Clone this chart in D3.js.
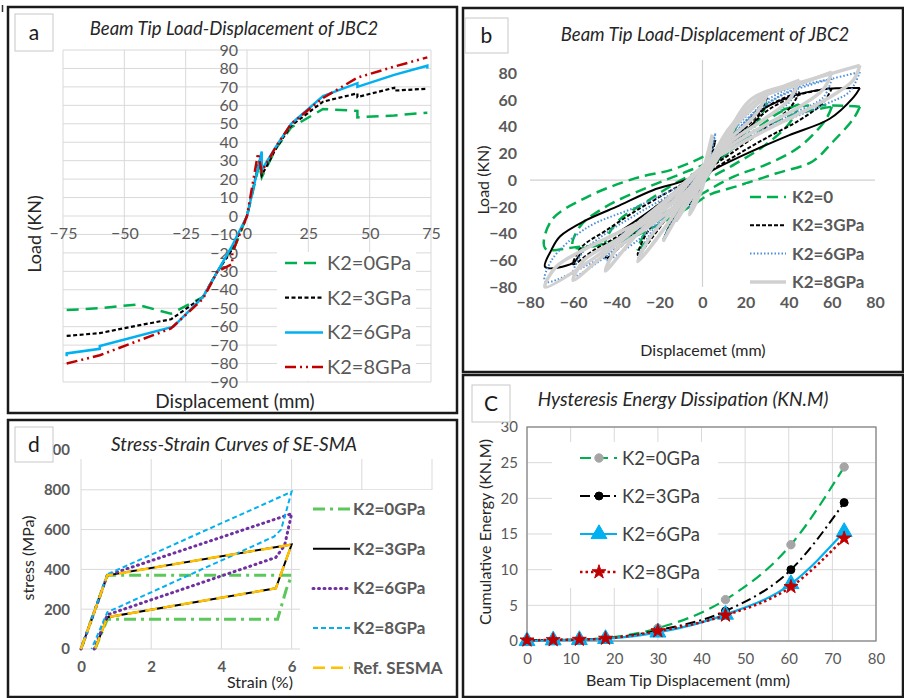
<!DOCTYPE html>
<html>
<head>
<meta charset="utf-8">
<script src="https://cdn.jsdelivr.net/npm/d3@7"></script>
<style>
body{margin:0;background:#fff}
svg{display:block;font-family:Lato,"Open Sans",sans-serif}
</style>
</head>
<body>
<svg></svg>
<script>
// ---------- panel a : envelope curves [disp, load] ----------
let envK0 = [[-73.5,-51],[-60,-50],[-45,-48],[-31,-53],[-18,-44],[-12,-30],[-6,-17],[-6,-20],[0,0],[5,28],[6,21],[12,37],[18,48],[31,58],[45,57],[45,53.5],[60,54.5],[73.5,56]]
let envK3 = [[-73.5,-65],[-60,-63.5],[-45,-59.5],[-31,-56],[-18,-44],[-12,-30],[-6,-18],[0,0],[5,30],[6,22],[12,37],[18,49],[31,62],[45,66.5],[45,64.5],[60,69.5],[60,68],[73.5,69]]
let envK6 = [[-73.5,-76],[-73.5,-74.5],[-60,-72],[-60,-70.5],[-30,-60],[-18,-44],[-12,-30],[-6,-16],[0,0],[6,35],[6,25],[12,38],[18,50],[31,65],[45,72],[45,70],[60,76.5],[73.5,81.5],[73.5,80]]
let envK8 = [[-73.5,-80],[-60,-75.5],[-45,-68],[-31,-61],[-18,-45],[-12,-30],[-6,-26],[-6,-20],[0,0],[4.5,34],[6,24],[12,38],[18,50],[31,64],[45,75],[60,81],[73.5,86]]
let ticksAx = [-75,-50,-25,0,25,50,75]
let ticksAy = [-90,-80,-70,-60,-50,-40,-30,-20,-10,0,10,20,30,40,50,60,70,80,90]
let legendA = ["K2=0GPa","K2=3GPa","K2=6GPa","K2=8GPa"]

// ---------- panel b : hysteresis loops [disp, load] ----------
let hysK0 = [
  [[6,22],[0,4],[-6,-18],[0,-2],[6,22]],
  [[12,37],[6,18],[0,2],[-6,-14],[-12,-30],[-6,-14],[0,0],[6,17],[12,37]],
  [[18,48],[12,30],[0,4],[-10,-20],[-18,-44],[-12,-25],[0,-2],[10,22],[18,48]],
  [[30,58],[25,42],[15,25],[0,5],[-15,-25],[-30,-52],[-25,-35],[-12,-12],[0,3],[12,25],[22,45],[30,58]],
  [[45,57],[40,42],[28,25],[15,12],[0,-2],[-15,-22],[-30,-38],[-45,-48],[-40,-32],[-25,-15],[-10,0],[5,12],[20,32],[35,50],[45,57]],
  [[60,55],[57,45],[45,25],[30,12],[15,3],[0,-10],[-15,-25],[-35,-42],[-60,-50],[-57,-35],[-45,-20],[-25,-5],[-8,6],[5,15],[20,32],[40,48],[60,55]],
  [[73,55],[70,46],[60,28],[51,14],[34,5],[17,-4],[3,-11],[-3,-17],[-20,-33],[-40,-47],[-58,-50],[-73,-51],[-70,-30],[-54,-13],[-31,1.5],[-14,8],[2,19],[20,38],[40,54],[60,56],[73,55]]
]
let hysK3 = [
  [[6,30],[0,5],[-6,-18],[0,-3],[6,30]],
  [[12,37],[5,17],[-5,-12],[-12,-30],[-5,-12],[5,15],[12,37]],
  [[18,49],[12,30],[0,4],[-10,-22],[-18,-44],[-12,-25],[0,-2],[10,24],[18,49]],
  [[30,62],[26,48],[15,28],[0,6],[-15,-25],[-30,-56],[-26,-40],[-15,-18],[0,4],[15,32],[30,62]],
  [[45,66],[41,55],[30,40],[15,22],[0,5],[-15,-18],[-30,-38],[-45,-59],[-40,-45],[-28,-28],[-12,-8],[0,5],[15,30],[30,55],[45,66]],
  [[60,69],[56,58],[45,45],[30,32],[15,18],[0,3],[-15,-15],[-35,-38],[-50,-52],[-60,-63],[-56,-50],[-45,-38],[-30,-22],[-15,-8],[0,6],[15,28],[30,52],[45,64],[60,69]],
  [[73,69],[70,62],[59,46],[40,33.6],[22,21],[6.5,9],[-4.6,-1.5],[-20,-18],[-40,-40],[-55,-52],[-60,-62],[-73,-65],[-70,-52],[-66,-42],[-54,-30],[-40,-20],[-23,-7.5],[-8,0],[5,12],[15,30],[25,50],[40,62],[56,68],[73,69]]
]
let hysK6 = [
  [[6,35],[0,5],[-6,-20],[0,-4],[6,35]],
  [[12,38],[6,20],[0,3],[-6,-13],[-12,-30],[-6,-14],[0,0],[6,18],[12,38]],
  [[18,50],[12,30],[0,5],[-10,-22],[-18,-44],[-12,-25],[0,-2],[10,25],[18,50]],
  [[30,65],[25,50],[12,28],[0,5],[-15,-30],[-30,-60],[-25,-42],[-12,-18],[0,3],[15,38],[30,65]],
  [[45,72],[40,58],[28,45],[12,25],[0,5],[-15,-22],[-30,-45],[-45,-60],[-40,-45],[-28,-30],[-12,-10],[0,5],[15,35],[30,60],[45,72]],
  [[60,76],[56,62],[42,50],[25,35],[8,18],[0,6],[-15,-18],[-35,-45],[-60,-72],[-56,-55],[-45,-40],[-30,-25],[-12,-8],[0,5],[15,35],[35,62],[60,76]],
  [[73,81],[68,66],[55.7,56],[32.5,40],[9.3,18.7],[0,8],[-15,-15],[-35,-45],[-55,-65],[-73,-76],[-70,-60],[-54,-36],[-30.6,-20],[-15,-8],[0,4],[10,25],[25,52],[45,70],[60,76],[73,81]]
]
let hysK8 = [
  [[4.5,34],[0,5],[-6,-26],[0,-5],[4.5,34]],
  [[12,38],[6,20],[0,3],[-6,-12],[-12,-30],[-6,-15],[0,0],[6,18],[12,38]],
  [[18,50],[12,32],[0,5],[-10,-22],[-18,-45],[-12,-28],[0,-2],[10,25],[18,50]],
  [[30,64],[24,48],[12,30],[0,8],[-15,-30],[-30,-61],[-24,-42],[-12,-20],[0,3],[12,35],[30,64]],
  [[45,75],[40,60],[28,45],[14,30],[0,10],[-15,-18],[-30,-40],[-45,-68],[-40,-52],[-25,-35],[-10,-15],[0,5],[12,38],[25,60],[45,75]],
  [[60,81],[56,68],[45,55],[30,42],[15,28],[0,10],[-15,-14],[-30,-35],[-45,-55],[-60,-75],[-55,-60],[-40,-45],[-25,-30],[-10,-12],[0,5],[12,35],[25,60],[45,72],[60,81]],
  [[73,86],[70,75],[60,63],[45,50],[30,38],[15,25],[0,10],[-15,-12],[-30,-32],[-50,-58],[-73,-80],[-68,-65],[-55,-52],[-40,-40],[-25,-28],[-10,-12],[0,5],[10,30],[23,61],[45,73],[60,80],[73,86]]
]
let ticksBx = [-80,-60,-40,-20,0,20,40,60,80]
let ticksBy = [-80,-60,-40,-20,0,20,40,60,80]
let legendB = ["K2=0","K2=3GPa","K2=6GPa","K2=8GPa"]

// ---------- panel c : cumulative energy ----------
let energyDisp = [0,6,12,18,30,45.5,60.5,72.7]
let energyK0 = [0.1,0.15,0.2,0.4,1.8,5.8,13.5,24.4]
let energyK3 = [0.1,0.15,0.2,0.35,1.5,4.2,10.0,19.4]
let energyK6 = [0,0.1,0.15,0.3,1.2,3.7,8.0,15.3]
let energyK8 = [0.1,0.15,0.2,0.35,1.4,3.6,7.6,14.4]
let ticksCx = [0,10,20,30,40,50,60,70,80]
let ticksCy = [0,5,10,15,20,25,30]
let legendC = ["K2=0GPa","K2=3GPa","K2=6GPa","K2=8GPa"]

// ---------- panel d : SE-SMA stress-strain [strain %, MPa] ----------
let sseK0 = [[0,0],[0.75,370],[6,370],[5.85,300],[5.6,150],[0.75,150],[0.4,0]]
let sseK3 = [[0,0],[0.75,370],[6,525],[5.55,305],[0.75,160],[0.4,0]]
let sseK6 = [[0,0],[0.75,370],[6,680],[5.8,520],[5.55,460],[0.75,172],[0.38,0]]
let sseK8 = [[0,0],[0.75,375],[6,790],[5.7,600],[5.5,565],[0.75,185],[0.3,0]]
let sseRef = [[0,0],[0.75,370],[6,525],[5.55,305],[0.75,160],[0.4,0]]
let gridDx = [0,2,4,6,8,10]
let ticksDx = [0,2,4,6]   // 8 and 10 sit under the legend
let ticksDy = [0,200,400,600,800,1000]
let legendD = ["K2=0GPa","K2=3GPa","K2=6GPa","K2=8GPa","Ref. SESMA"]

let svg = d3.select('svg').attr('width',904).attr('height',698)
svg.append('rect').attr('width',904).attr('height',698).attr('fill','#fff')
svg.append('line').attr('x1',2.5).attr('x2',2.5).attr('y1',5).attr('y2',12).attr('stroke','#333').attr('stroke-width',1.5)

let tickText = (g, size, weight) => {
    g.select('.domain').remove()
    g.attr('font-family',null).attr('font-size',size)
    g.selectAll('text').attr('fill','#595959').attr('font-weight',weight)
}

let panelBox = (x,y,w,h) => {
    svg.append('rect').attr('x',x).attr('y',y).attr('width',w).attr('height',h)
        .attr('fill','none').attr('stroke','#1a1a1a').attr('stroke-width',2.5)
}
let labelBox = (x,y,w,h,t) => {
    svg.append('rect').attr('x',x).attr('y',y).attr('width',w).attr('height',h)
        .attr('fill','#fff').attr('stroke','#c8c8c8').attr('stroke-width',1)
    svg.append('text').attr('x',x+w/2).attr('y',y+h/2+7).attr('text-anchor','middle')
        .attr('font-size',21).attr('fill','#1a1a1a').text(t)
}

// ================= panel a =================
let drawPanelA = () => {
    let xA = d3.scaleLinear().domain([-75,75]).range([63,431])
    let yA = d3.scaleLinear().domain([-90,90]).range([382,50])
    let g = svg.append('g')
    g.selectAll('.hg').data(ticksAy).enter().append('line')
        .attr('x1',xA(-75)).attr('x2',xA(75)).attr('y1',d=>yA(d)).attr('y2',d=>yA(d))
        .attr('stroke','#d9d9d9')
    g.selectAll('.vg').data(ticksAx).enter().append('line')
        .attr('x1',d=>xA(d)).attr('x2',d=>xA(d)).attr('y1',yA(90)).attr('y2',yA(-90))
        .attr('stroke','#d9d9d9')
    g.append('g').attr('transform','translate('+xA(0)+',0)')
        .call(d3.axisLeft(yA).tickValues(ticksAy).tickSize(0).tickPadding(9))
        .call(a=>tickText(a,16,'normal'))
    g.append('g').attr('transform','translate(0,'+yA(0)+')')
        .call(d3.axisBottom(xA).tickValues(ticksAx).tickSize(0).tickPadding(12))
        .call(a=>tickText(a,16,'normal'))

    let line = d3.line().x(d=>xA(d[0])).y(d=>yA(d[1]))
    let series = [
        {d:envK0,c:'#00b050',w:2.5,dash:'12,7'},
        {d:envK3,c:'#000',w:2.2,dash:'4,2.5'},
        {d:envK6,c:'#00b0f0',w:2.5,dash:null},
        {d:envK8,c:'#c00000',w:2.5,dash:'11,4,2,4,2,4'}
    ]
    series.forEach(s => {
        g.append('path').attr('d',line(s.d)).attr('fill','none').attr('stroke',s.c)
            .attr('stroke-width',s.w).attr('stroke-dasharray',s.dash)
    })

    // legend
    g.append('rect').attr('x',277).attr('y',252).attr('width',139).attr('height',129).attr('fill','#fff')
    legendA.forEach((t,i) => {
        let y = 263+i*34.7
        g.append('line').attr('x1',285).attr('x2',323).attr('y1',y).attr('y2',y)
            .attr('stroke',series[i].c).attr('stroke-width',series[i].w).attr('stroke-dasharray',series[i].dash)
        g.append('text').attr('x',327).attr('y',y+7).attr('font-size',20).attr('fill','#595959').text(t)
    })

    g.append('text').attr('x',234).attr('y',35).attr('text-anchor','middle').attr('font-style','italic')
        .attr('font-size',18.5).attr('fill','#262626').text('Beam Tip Load-Displacement of JBC2')
    g.append('text').attr('x',235).attr('y',408).attr('text-anchor','middle')
        .attr('font-size',19).attr('fill','#262626').text('Displacement (mm)')
    g.append('text').attr('transform','translate(41,234) rotate(-90)').attr('text-anchor','middle')
        .attr('font-size',18).attr('fill','#262626').text('Load (KN)')
    panelBox(8,7,449,406)
    labelBox(15,14,38,37,'a')
}

// ================= panel b =================
let drawPanelB = () => {
    let xB = d3.scaleLinear().domain([-80,80]).range([530,875])
    let yB = d3.scaleLinear().domain([-80,90]).range([287,60])
    let g = svg.append('g')
    g.append('line').attr('x1',xB(-80)).attr('x2',xB(80)).attr('y1',yB(0)).attr('y2',yB(0)).attr('stroke','#d0d0d0').attr('stroke-width',1.2)
    g.append('line').attr('x1',xB(0)).attr('x2',xB(0)).attr('y1',yB(90)).attr('y2',yB(-80)).attr('stroke','#d0d0d0').attr('stroke-width',1.2)
    g.append('g').attr('transform','translate(517,0)')
        .call(d3.axisLeft(yB).tickValues(ticksBy).tickSize(0).tickPadding(0))
        .call(a=>tickText(a,16,'bold'))
    g.append('g').attr('transform','translate(0,297)')
        .call(d3.axisBottom(xB).tickValues(ticksBx).tickSize(0).tickPadding(0))
        .call(a=>tickText(a,16,'bold'))

    let line = d3.line().x(d=>xB(d[0])).y(d=>yB(d[1])).curve(d3.curveCatmullRom.alpha(0.5))
    let series = [
        {d:hysK0,c:'#00b050',w:2.5,dash:'11,6'},
        {d:hysK3,c:'#000',w:2,dash:'4,2'},
        {d:hysK6,c:'#4a8fd8',w:2,dash:'1.5,2'},
        {d:hysK8,c:'#d0d0d0',w:3.5,dash:null}
    ]
    series.forEach((s,si) => {
        s.d.forEach((loop,li) => {
            // the outer K2=3GPa loop reads as a solid line in the figure
            let dash = (si===1 && li===s.d.length-1) ? null : s.dash
            g.append('path').attr('d',line(loop)).attr('fill','none').attr('stroke',s.c)
                .attr('stroke-width',s.w).attr('stroke-dasharray',dash).attr('stroke-linejoin','round')
        })
    })

    legendB.forEach((t,i) => {
        let y = 197+i*28.3
        g.append('rect').attr('x',746).attr('y',y-13).attr('width',145).attr('height',26).attr('fill','#fff')
        g.append('line').attr('x1',750).attr('x2',786).attr('y1',y).attr('y2',y)
            .attr('stroke',series[i].c).attr('stroke-width',series[i].w).attr('stroke-dasharray',series[i].dash)
        g.append('text').attr('x',792).attr('y',y+6).attr('font-size',17).attr('font-weight','bold')
            .attr('fill','#595959').text(t)
    })

    g.append('text').attr('x',705).attr('y',41).attr('text-anchor','middle').attr('font-style','italic')
        .attr('font-size',18.5).attr('fill','#262626').text('Beam Tip Load-Displacement of JBC2')
    g.append('text').attr('x',703).attr('y',356).attr('text-anchor','middle')
        .attr('font-size',16).attr('fill','#262626').text('Displacemet (mm)')
    g.append('text').attr('transform','translate(489,180) rotate(-90)').attr('text-anchor','middle')
        .attr('font-size',16).attr('fill','#262626').text('Load (KN)')
    panelBox(463,8,440,364)
    labelBox(465,18,43,35,'b')
}

// ================= panel c =================
let drawPanelC = () => {
    let xC = d3.scaleLinear().domain([0,80]).range([527,876])
    let yC = d3.scaleLinear().domain([0,30]).range([641,427])
    let g = svg.append('g')
    g.selectAll('.hg').data(ticksCy).enter().append('line')
        .attr('x1',xC(0)).attr('x2',xC(80)).attr('y1',d=>yC(d)).attr('y2',d=>yC(d)).attr('stroke','#d9d9d9')
    g.selectAll('.vg').data(ticksCx).enter().append('line')
        .attr('x1',d=>xC(d)).attr('x2',d=>xC(d)).attr('y1',yC(0)).attr('y2',yC(30)).attr('stroke','#d9d9d9')
    g.append('rect').attr('x',xC(0)).attr('y',yC(30)).attr('width',xC(80)-xC(0)).attr('height',yC(0)-yC(30))
        .attr('fill','none').attr('stroke','#7f7f7f').attr('stroke-width',1.2)
    g.append('g').attr('transform','translate('+xC(0)+',0)')
        .call(d3.axisLeft(yC).tickValues(ticksCy).tickSize(0).tickPadding(9))
        .call(a=>tickText(a,15,'normal'))
    g.append('g').attr('transform','translate(0,'+yC(0)+')')
        .call(d3.axisBottom(xC).tickValues(ticksCx).tickSize(0).tickPadding(12))
        .call(a=>tickText(a,15,'normal'))

    // legend background
    g.append('rect').attr('x',552).attr('y',442).attr('width',166).attr('height',146).attr('fill','#fff')

    let line = d3.line().x(d=>xC(d[0])).y(d=>yC(d[1])).curve(d3.curveMonotoneX)
    let series = [
        {v:energyK0,c:'#00b050',w:2.2,dash:'11,6',sym:d3.symbolCircle,size:55,fill:'#a5a5a5'},
        {v:energyK3,c:'#000',w:2,dash:'10,4,2,4',sym:d3.symbolCircle,size:50,fill:'#000'},
        {v:energyK6,c:'#00b0f0',w:2.2,dash:null,sym:d3.symbolTriangle,size:110,fill:'#00b0f0'},
        {v:energyK8,c:'#c00000',w:2.5,dash:'2.5,3',sym:d3.symbolStar,size:60,fill:'#c00000'}
    ]
    series.forEach(s => {
        let pts = energyDisp.map((x,i)=>[x,s.v[i]])
        g.append('path').attr('d',line(pts)).attr('fill','none').attr('stroke',s.c)
            .attr('stroke-width',s.w).attr('stroke-dasharray',s.dash)
        g.selectAll(null).data(pts).enter().append('path')
            .attr('d',d3.symbol().type(s.sym).size(s.size))
            .attr('transform',d=>'translate('+xC(d[0])+','+yC(d[1])+')')
            .attr('fill',s.fill).attr('stroke',s.fill)
    })
    legendC.forEach((t,i) => {
        let y = 458+i*38
        let s = series[i]
        g.append('line').attr('x1',580).attr('x2',617).attr('y1',y).attr('y2',y)
            .attr('stroke',s.c).attr('stroke-width',s.w).attr('stroke-dasharray',s.dash)
        g.append('path').attr('d',d3.symbol().type(s.sym).size(s.size))
            .attr('transform','translate(599,'+y+')').attr('fill',s.fill).attr('stroke',s.fill)
        g.append('text').attr('x',622).attr('y',y+7).attr('font-size',18.5).attr('fill','#404040').text(t)
    })

    g.append('text').attr('x',683).attr('y',406).attr('text-anchor','middle').attr('font-style','italic')
        .attr('font-size',19).attr('fill','#262626').text('Hysteresis Energy Dissipation (KN.M)')
    g.append('text').attr('x',688).attr('y',686).attr('text-anchor','middle')
        .attr('font-size',16).attr('fill','#262626').text('Beam Tip Displacement (mm)')
    g.append('text').attr('transform','translate(491,532) rotate(-90)').attr('text-anchor','middle')
        .attr('font-size',16).attr('fill','#262626').text('Cumulative Energy (KN.M)')
    panelBox(463,375,440,322)
    labelBox(472,385,38,37,'C')
}

// ================= panel d =================
let drawPanelD = () => {
    let xD = d3.scaleLinear().domain([0,10]).range([81,432])
    let yD = d3.scaleLinear().domain([0,1000]).range([649,450])
    let g = svg.append('g')
    g.selectAll('.hg').data(ticksDy).enter().append('line')
        .attr('x1',xD(0)).attr('x2',xD(10)).attr('y1',d=>yD(d)).attr('y2',d=>yD(d)).attr('stroke','#d9d9d9')
    g.selectAll('.vg').data(gridDx).enter().append('line')
        .attr('x1',d=>xD(d)).attr('x2',d=>xD(d)).attr('y1',yD(0)).attr('y2',yD(1000)).attr('stroke','#d9d9d9')
    g.append('rect').attr('x',60).attr('y',428).attr('width',390).attr('height',31).attr('fill','#fff')
    g.append('g').attr('transform','translate(70,0)')
        .call(d3.axisLeft(yD).tickValues(ticksDy).tickSize(0).tickPadding(0))
        .call(a=>tickText(a,15,'bold'))
    g.append('g').attr('transform','translate(0,661)')
        .call(d3.axisBottom(xD).tickValues(ticksDx).tickSize(0).tickPadding(0))
        .call(a=>tickText(a,15,'bold'))

    let line = d3.line().x(d=>xD(d[0])).y(d=>yD(d[1]))
    let series = [
        {d:sseK0,c:'#5cc85c',w:3,dash:'12,5,3,5'},
        {d:sseK3,c:'#000',w:2,dash:null},
        {d:sseK6,c:'#7030a0',w:3,dash:'1,4.5',cap:'round'},
        {d:sseK8,c:'#00b0f0',w:2,dash:'5,3'},
        {d:sseRef,c:'#ffc000',w:2.5,dash:'12,6'}
    ]
    series.forEach(s => {
        g.append('path').attr('d',line(s.d)).attr('fill','none').attr('stroke',s.c)
            .attr('stroke-width',s.w).attr('stroke-dasharray',s.dash).attr('stroke-linecap',s.cap||'butt')
    })

    g.append('rect').attr('x',300).attr('y',490).attr('width',155).attr('height',206).attr('fill','#fff')
    legendD.forEach((t,i) => {
        let y = 509+i*39.7
        let s = series[i]
        g.append('line').attr('x1',313).attr('x2',350).attr('y1',y).attr('y2',y)
            .attr('stroke',s.c).attr('stroke-width',s.w).attr('stroke-dasharray',s.dash).attr('stroke-linecap',s.cap||'butt')
        g.append('text').attr('x',353).attr('y',y+6).attr('font-size',17).attr('font-weight','bold')
            .attr('fill','#595959').text(t)
    })

    g.append('text').attr('x',234).attr('y',451).attr('text-anchor','middle').attr('font-style','italic')
        .attr('font-size',19).attr('fill','#262626').text('Stress-Strain Curves of SE-SMA')
    g.append('text').attr('x',260).attr('y',688).attr('text-anchor','middle')
        .attr('font-size',16).attr('fill','#262626').text('Strain (%)')
    g.append('text').attr('transform','translate(34,558) rotate(-90)').attr('text-anchor','middle')
        .attr('font-size',16).attr('fill','#262626').text('stress (MPa)')
    panelBox(8,420,449,277)
    labelBox(15,427,38,35,'d')
}

drawPanelA()
drawPanelB()
drawPanelC()
drawPanelD()
</script>
</body>
</html>
